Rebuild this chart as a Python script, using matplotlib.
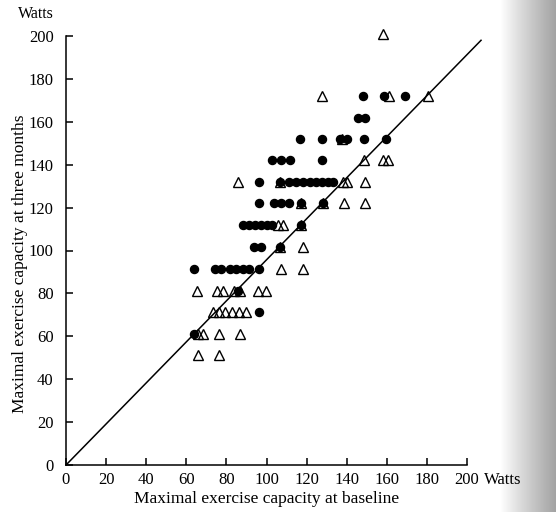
import matplotlib.pyplot as plt
import numpy as np

plt.rcParams['font.family'] = ['Liberation Serif', 'DejaVu Serif']

# filled circles
circle_x = [148.3, 158.5, 169,
            145.6, 149.1,
            116.7, 127.7, 136.7, 140.1, 148.6, 159.4,
            102.7, 107.2, 111.7, 127.7,
            96.3, 106.7, 111.2, 114.6, 118.2, 121.7, 124.7, 127.7, 130.7, 133.2,
            96.3, 103.7, 107.2, 111.2, 117, 128,
            88.3, 91.3, 94.3, 97.3, 100.2, 102.7, 117,
            93.8, 97.3, 106.7,
            63.6, 74.3, 77.3, 81.8, 84.8, 88.3, 91.3, 96.3,
            86,
            96.4,
            63.8]
circle_y = [172] * 3 + [162] * 2 + [152] * 6 + [142] * 4 + [132] * 10 + \
           [122] * 6 + [112] * 7 + [101.8] * 3 + [91.5] * 8 + [81] + [71.2] + [61.2]

# open triangles
tri_x = [158.3,
         127.8, 161, 180.4,
         137.7,
         148.6, 158, 160.5,
         85.8, 106.7, 138.2, 140.1, 149.1,
         117, 128, 138.7, 149.1,
         105.7, 108.2, 117,
         106.7, 118,
         107, 118,
         65.3, 75.1, 78.3, 84, 87, 95.8, 99.8,
         73.3, 76.3, 79.3, 82.8, 86.3, 89.8,
         65.8, 68.3, 76.5, 86.8,
         66, 76.5]
tri_y = [201] + [172] * 3 + [152] + [142] * 3 + [132] * 5 + [122] * 4 + \
        [112] * 3 + [101.8] * 2 + [91.5] * 2 + [81] * 7 + [71.2] * 6 + \
        [61.2] * 4 + [51.2] * 2

# line of identity as drawn in the scan
line_x = [0, 207]
line_y = [0, 198]

ticks = [0, 20, 40, 60, 80, 100, 120, 140, 160, 180, 200]

fig = plt.figure(figsize=(5.56, 5.12), dpi=100)

# grey page edge of the scan on the right
bg = fig.add_axes([0.9, 0, 0.1, 1], zorder=-1)
bg.imshow(np.linspace(1.0, 0.8, 50)[None, :] ** 2, cmap='gray', vmin=0, vmax=1,
          aspect='auto', extent=[0, 1, 0, 1])
bg.axis('off')

ax = fig.add_axes([66 / 556, 47 / 512, 401 / 556, 429 / 512])
ax.patch.set_alpha(0)

ax.plot(line_x, line_y, color='black', lw=1.1, clip_on=False)
ax.plot(circle_x, circle_y, 'o', color='black', markersize=5.8, clip_on=False)
ax.plot(tri_x, tri_y, '^', markerfacecolor='none', markeredgecolor='black',
        markersize=7.2, markeredgewidth=1.0, clip_on=False)

ax.set_xlim(0, 200)
ax.set_ylim(0, 200)
ax.set_xticks(ticks)
ax.set_yticks(ticks)

ax.spines['top'].set_visible(False)
ax.spines['right'].set_visible(False)
ax.spines['left'].set_linewidth(1.1)
ax.spines['bottom'].set_linewidth(1.1)
ax.tick_params(direction='in', length=5, width=1.1, labelsize=12)
ax.tick_params(axis='x', pad=5)
ax.tick_params(axis='y', pad=9)

ax.annotate('Watts', xy=(200, 0), xytext=(12, -5), textcoords='offset points',
            ha='left', va='top', fontsize=12, annotation_clip=False)

ax.set_xlabel('Maximal exercise capacity at baseline', fontsize=12.5, labelpad=2)
ax.set_ylabel('Maximal exercise capacity at three months', fontsize=12.5)
ax.yaxis.set_label_coords(-0.095, 0.47)
fig.text(36 / 556, 1 - 14 / 512, 'Watts', ha='center', va='center', fontsize=11.5)

fig.savefig('out.png', dpi=100)
